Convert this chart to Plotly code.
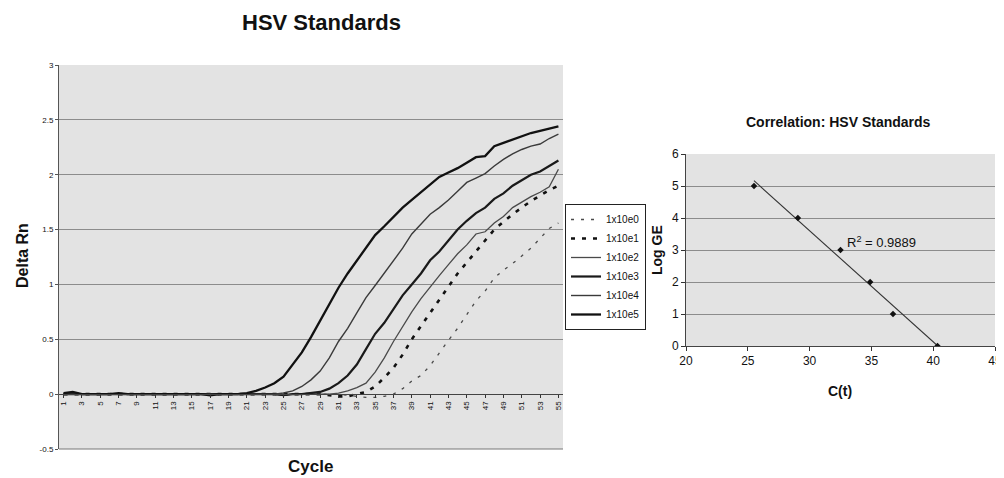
import numpy as np
import plotly.graph_objects as go

# ---------------- data ----------------
cycles = list(range(1, 56))
tick_cycles = list(range(1, 56, 2))

e5 = [0.01, 0.02, 0.0, 0.0, 0.0, 0.0, 0.01, 0.0, 0.0, 0.0,
      0.0, 0.0, 0.0, 0.0, 0.0, 0.0, -0.01, 0.0, 0.0, 0.0,
      0.01, 0.03, 0.06, 0.1, 0.16, 0.27, 0.38, 0.52, 0.67, 0.83,
      0.97, 1.1, 1.22, 1.34, 1.45, 1.53, 1.62, 1.7, 1.77, 1.84,
      1.91, 1.98, 2.02, 2.06, 2.11, 2.16, 2.17, 2.26, 2.29, 2.32,
      2.35, 2.38, 2.4, 2.42, 2.44]
e4 = [0.0, 0.0, 0.0, 0.0, 0.0, 0.0, 0.0, 0.0, 0.0, 0.0,
      0.0, 0.0, 0.0, 0.0, 0.0, 0.0, 0.0, 0.0, 0.0, 0.0,
      0.0, 0.0, 0.0, 0.0, 0.01, 0.03, 0.07, 0.13, 0.21, 0.33,
      0.48, 0.6, 0.74, 0.88, 0.99, 1.1, 1.22, 1.33, 1.46, 1.55,
      1.64, 1.7, 1.77, 1.85, 1.93, 1.97, 2.01, 2.08, 2.14, 2.19,
      2.23, 2.26, 2.28, 2.33, 2.37]
e3 = [0.0, 0.0, 0.0, 0.0, 0.0, 0.0, 0.0, 0.0, 0.0, 0.0,
      0.0, 0.0, 0.0, 0.0, 0.0, 0.0, 0.0, 0.0, 0.0, 0.0,
      0.0, 0.0, 0.0, 0.0, -0.01, 0.0, 0.0, 0.01, 0.02, 0.05,
      0.1, 0.17, 0.27, 0.41, 0.55, 0.65, 0.77, 0.9, 1.0, 1.1,
      1.22, 1.3, 1.4, 1.5, 1.58, 1.65, 1.7, 1.78, 1.83, 1.9,
      1.95, 2.0, 2.03, 2.08, 2.13]
e2 = [0.0, 0.0, 0.0, 0.0, 0.0, 0.0, 0.0, 0.0, 0.0, 0.0,
      0.0, 0.0, 0.0, 0.0, 0.0, 0.0, 0.0, 0.0, 0.0, 0.0,
      0.0, 0.0, 0.0, 0.0, -0.01, 0.0, 0.0, 0.0, 0.0, 0.0,
      0.01, 0.03, 0.06, 0.1, 0.2, 0.33, 0.48, 0.62, 0.75, 0.87,
      0.98, 1.08, 1.18, 1.28, 1.36, 1.46, 1.48, 1.56, 1.62, 1.7,
      1.75, 1.8, 1.84, 1.89, 2.05]
e1 = [0.0, 0.0, 0.0, 0.0, 0.0, 0.0, 0.0, 0.0, 0.0, 0.0,
      0.0, 0.0, 0.0, 0.0, 0.0, 0.0, 0.0, 0.0, 0.0, 0.0,
      0.0, 0.0, 0.0, 0.0, 0.0, 0.0, 0.0, 0.0, 0.0, -0.01,
      -0.02, -0.02, 0.0, 0.02, 0.07, 0.15, 0.24, 0.36, 0.5, 0.62,
      0.75, 0.87, 0.99, 1.1, 1.2, 1.3, 1.4, 1.5, 1.57, 1.64,
      1.7, 1.76, 1.81, 1.86, 1.9]
e0 = [0.0, 0.0, 0.0, 0.0, 0.0, 0.0, 0.0, 0.0, 0.0, 0.0,
      0.0, 0.0, 0.0, 0.0, 0.0, 0.0, 0.0, 0.0, 0.0, 0.0,
      0.0, 0.0, 0.0, 0.0, 0.0, 0.0, 0.0, 0.0, 0.0, 0.0,
      0.0, -0.01, -0.02, -0.03, -0.03, -0.02, 0.0, 0.05, 0.12, 0.17,
      0.26, 0.38, 0.49, 0.6, 0.72, 0.85, 0.94, 1.06, 1.13, 1.19,
      1.26, 1.33, 1.42, 1.51, 1.56]

series_names = ["1x10e0", "1x10e1", "1x10e2", "1x10e3", "1x10e4", "1x10e5"]
series_values = [e0, e1, e2, e3, e4, e5]

ct_values = [25.5, 29.05, 32.5, 34.9, 36.75, 40.35]
log_ge = [5, 4, 3, 2, 1, 0]
r2_label = "0.9889"

# ---------------- styles ----------------
styles = [
    dict(color="#4a4a4a", width=1.3, dash="3px,7px"),
    dict(color="#111111", width=2.6, dash="4px,7px"),
    dict(color="#4a4a4a", width=1.3, dash="solid"),
    dict(color="#1a1a1a", width=2.2, dash="solid"),
    dict(color="#3a3a3a", width=1.4, dash="solid"),
    dict(color="#111111", width=2.3, dash="solid"),
]

OFF = 8  # page body margin of the html page
W, H = 1004 - OFF, 478 - OFF
FONT = "Liberation Sans, Arial, sans-serif"
BG = "#e3e3e3"
GRID = "#8c8c8c"

def px_x(p):
    return (p - OFF) / W

def px_y(p):
    return 1 - (p - OFF) / H

fig = go.Figure()

for name, vals, st in zip(series_names, series_values, styles):
    fig.add_trace(go.Scatter(
        x=cycles, y=vals, mode="lines", name=name,
        line=st, xaxis="x", yaxis="y",
    ))

# Correlation chart: linear trend line fitted to the points
coef = np.polyfit(ct_values, log_ge, 1)
fit_x = [min(ct_values), max(ct_values)]
fit_y = [coef[0] * v + coef[1] for v in fit_x]

fig.add_trace(go.Scatter(
    x=fit_x, y=fit_y, mode="lines", showlegend=False,
    line=dict(color="#333333", width=1.1), xaxis="x2", yaxis="y2",
))
fig.add_trace(go.Scatter(
    x=ct_values, y=log_ge, mode="markers", showlegend=False,
    marker=dict(symbol="diamond", size=5, color="#111111"),
    xaxis="x2", yaxis="y2",
))

# domains (page pixels)
L1, R1, T1, B1 = 59, 563, 65, 449
L2, R2, T2, B2 = 686, 995, 154, 346
y0_pix = T1 + (B1 - T1) * 3 / 3.5


def label(text, x, y, size, angle=0, xanchor="center"):
    return dict(text=text, x=px_x(x), y=px_y(y), xref="paper", yref="paper",
                xanchor=xanchor, yanchor="middle", showarrow=False,
                textangle=angle, font=dict(size=size, family=FONT, color="#111111"))


fig.update_layout(
    width=W, height=H,
    margin=dict(l=0, r=0, t=0, b=0, autoexpand=False),
    paper_bgcolor="white",
    plot_bgcolor=BG,
    font=dict(family=FONT, color="#111111"),
    showlegend=True,
    legend=dict(
        x=px_x(565), y=px_y(204), xanchor="left", yanchor="top",
        bgcolor="white", bordercolor="#222222", borderwidth=1,
        font=dict(size=10, family=FONT, color="#111111"),
        itemwidth=30, tracegroupgap=0,
    ),
    xaxis=dict(
        domain=[px_x(L1), px_x(R1)],
        anchor="free", position=px_y(y0_pix),
        range=[0.5, 55.5], automargin=False,
        tickmode="array", tickvals=tick_cycles,
        ticktext=[str(c) for c in tick_cycles],
        tickangle=-90, tickfont=dict(size=8, family=FONT),
        ticks="outside", ticklen=3, tickcolor="#333333",
        showline=True, linecolor="#444444", linewidth=1,
        showgrid=False, zeroline=False,
    ),
    yaxis=dict(
        domain=[px_y(B1), px_y(T1)],
        anchor="x", automargin=False,
        range=[-0.5, 3],
        tickmode="array", tickvals=[-0.5, 0, 0.5, 1, 1.5, 2, 2.5, 3],
        ticktext=["-0.5", "0", "0.5", "1", "1.5", "2", "2.5", "3"],
        tickfont=dict(size=8, family=FONT),
        ticks="outside", ticklen=3, tickcolor="#555555",
        showline=True, linecolor="#555555", linewidth=1,
        showgrid=True, gridcolor=GRID, gridwidth=1,
        zeroline=False,
    ),
    xaxis2=dict(
        domain=[px_x(L2), px_x(R2)],
        anchor="y2", automargin=False,
        range=[20, 45],
        tickmode="array", tickvals=[20, 25, 30, 35, 40, 45],
        tickfont=dict(size=12, family=FONT),
        ticks="outside", ticklen=4, tickcolor="#333333",
        showline=True, linecolor="#444444", linewidth=1,
        showgrid=False, zeroline=False,
    ),
    yaxis2=dict(
        domain=[px_y(B2), px_y(T2)],
        anchor="x2", automargin=False,
        range=[0, 6],
        tickmode="array", tickvals=[0, 1, 2, 3, 4, 5, 6],
        tickfont=dict(size=12, family=FONT),
        ticks="outside", ticklen=4, tickcolor="#333333",
        showline=True, linecolor="#444444", linewidth=1,
        showgrid=True, gridcolor=GRID, gridwidth=1,
        zeroline=False,
    ),
    annotations=[
        label("<b>HSV Standards</b>", 321, 22, 22),
        label("<b>Delta Rn</b>", 22, 256, 16, angle=-90),
        label("<b>Cycle</b>", 310, 466, 17),
        label("<b>Correlation: HSV Standards</b>", 838, 122, 14),
        label("<b>Log GE</b>", 657, 250, 14, angle=-90),
        label("<b>C(t)</b>", 840, 391, 14),
        label("R<sup>2</sup> = " + r2_label, 845, 242, 13, xanchor="left"),
    ],
    shapes=[
        dict(type="line", xref="paper", yref="paper",
             x0=px_x(L1), x1=px_x(R1), y0=px_y(B1), y1=px_y(B1),
             line=dict(color="#777777", width=1)),
    ],
)

fig.write_html("out.html")
